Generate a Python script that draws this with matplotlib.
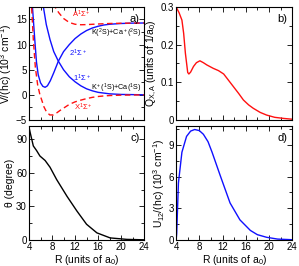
import matplotlib
matplotlib.use("Agg")
import matplotlib.pyplot as plt
from matplotlib.ticker import MultipleLocator

plt.rcParams['font.family'] = ['Liberation Sans', 'DejaVu Sans']
plt.rcParams['mathtext.fontset'] = 'custom'
plt.rcParams['mathtext.rm'] = 'Liberation Sans'
plt.rcParams['mathtext.it'] = 'Liberation Sans:italic'
plt.rcParams['mathtext.default'] = 'regular'

# panel a: potentials (10^3 cm^-1)
r_x = [4.3, 4.45, 4.75, 5.1, 5.5, 5.9, 6.2, 6.6, 7.0, 7.6, 8.2, 8.8, 9.4, 10.2, 11, 12, 13, 14, 15, 16, 17, 18, 20, 22, 24]
v_x = [20, 17.5, 11, 5.5, 2.0, 0, -1, -2.4, -3.3, -4.0, -4.0, -3.6, -3.1, -2.5, -1.9, -1.4, -1.05, -0.75, -0.5, -0.33, -0.22, -0.14, -0.06, -0.03, -0.01]
r_a = [8.3, 8.5, 9.2, 10, 11, 12, 13, 14, 16, 18, 20, 24]
v_a = [18.2, 17.5, 16.3, 15.2, 14.4, 14.05, 13.95, 13.98, 14.1, 14.2, 14.25, 14.3]
r_up = [4.45, 4.6, 5.0, 5.3, 5.6, 6.0, 6.4, 6.8, 7.2, 7.7, 8.3, 9.1, 10, 11, 12, 13, 14, 15, 16, 17, 18, 20, 22, 24]
v_up = [20, 17.5, 11.0, 6.5, 4.0, 2.4, 1.7, 1.5, 1.8, 2.8, 4.4, 6.7, 8.6, 10.0, 11.2, 12.1, 12.8, 13.3, 13.65, 13.9, 14.05, 14.2, 14.27, 14.3]
r_dn = [6.3, 6.5, 7.0, 7.65, 8.3, 9.1, 10, 11, 12, 13, 14, 15, 16, 18, 20, 24]
v_dn = [19, 17.5, 14.0, 11.0, 8.6, 6.7, 5.0, 3.6, 2.6, 1.8, 1.2, 0.8, 0.5, 0.2, 0.08, 0.01]

# panel b: Q_X,A (1/a0)
r_q = [4.0, 4.5, 5.0, 5.3, 5.6, 6.0, 6.2, 6.5, 7.0, 7.5, 8.1, 8.7, 9.3, 10.4, 11.3, 12.2, 13.0, 13.9, 14.8, 15.6, 16.5, 17.3, 18.5, 19.6, 21, 22.6, 24]
q = [0.3, 0.285, 0.265, 0.23, 0.177, 0.126, 0.122, 0.127, 0.142, 0.152, 0.157, 0.152, 0.146, 0.137, 0.131, 0.122, 0.106, 0.088, 0.07, 0.053, 0.04, 0.031, 0.02, 0.013, 0.007, 0.004, 0.002]

# panel c: mixing angle (degree)
r_t = [4.0, 4.2, 4.75, 5.3, 5.9, 6.8, 7.65, 8.8, 10.6, 12.3, 14.0, 15.8, 18.1, 21, 24]
theta = [101, 96, 84, 80, 75, 71, 65, 54, 39, 26, 14, 6.3, 1.8, 0.5, 0.1]

# panel d: coupling (10^3 cm^-1)
r_u = [4.0, 4.1, 4.4, 5.0, 5.8, 6.5, 7.2, 8.0, 8.7, 9.5, 10.2, 11.6, 13.3, 15.0, 16.8, 18.0, 19.6, 21.5, 23.6, 24]
u12 = [0.0, 0.6, 5.4, 8.3, 9.8, 10.3, 10.45, 10.35, 10.0, 9.3, 8.3, 6.1, 3.5, 1.9, 0.9, 0.5, 0.25, 0.08, 0.03, 0.02]

fig = plt.figure(figsize=(2.99, 2.66), dpi=100)
ax_a = fig.add_axes([0.097, 0.549, 0.385, 0.425])
ax_b = fig.add_axes([0.589, 0.549, 0.388, 0.425])
ax_c = fig.add_axes([0.097, 0.098, 0.385, 0.429])
ax_d = fig.add_axes([0.589, 0.098, 0.388, 0.429])

fs = 7.5
for ax in (ax_a, ax_b, ax_c, ax_d):
    ax.set_xlim(4, 24)
    ax.xaxis.set_major_locator(MultipleLocator(4))
    ax.xaxis.set_minor_locator(MultipleLocator(2))
    ax.tick_params(which='both', direction='in', top=True, right=True, labelsize=7, pad=1.5)
    ax.tick_params(which='major', length=3.5, width=0.6)
    ax.tick_params(which='minor', length=2, width=0.6)
    for s in ax.spines.values():
        s.set_linewidth(0.8)

ax_a.plot(r_up, v_up, color='#1010ff', lw=1.0)
ax_a.plot(r_dn, v_dn, color='#1010ff', lw=1.0)
ax_a.plot(r_x, v_x, color='#ff1010', lw=1.0, ls=(0, (4, 2.5)))
ax_a.plot(r_a, v_a, color='#ff1010', lw=1.0, ls=(0, (4, 2.5)))
ax_a.set_ylim(-5, 17.5)
ax_a.yaxis.set_major_locator(MultipleLocator(5))
ax_a.yaxis.set_minor_locator(MultipleLocator(2.5))
ax_a.set_xticklabels([])
ax_a.set_ylabel('V/(hc) (10$^3$ cm$^{-1}$)', fontsize=fs, labelpad=1)
ax_a.text(11.4, 16.0, 'A$^1\\Sigma^+$', color='#ff1010', fontsize=5.5, ha='left', va='center')
ax_a.text(23.6, 12.3, 'K($^2$S)+Ca$^+$($^2$S)', color='black', fontsize=5.2, ha='right', va='center')
ax_a.text(11.0, 8.3, '2$^1\\Sigma^+$', color='#1010ff', fontsize=5.5, ha='left', va='center')
ax_a.text(11.6, 3.3, '1$^1\\Sigma^+$', color='#1010ff', fontsize=5.5, ha='left', va='center')
ax_a.text(23.6, 1.2, 'K$^+$($^1$S)+Ca($^1$S)', color='black', fontsize=5.2, ha='right', va='center')
ax_a.text(11.8, -2.5, 'X$^1\\Sigma^+$', color='#ff1010', fontsize=5.5, ha='left', va='center')
ax_a.text(0.96, 0.94, 'a)', transform=ax_a.transAxes, ha='right', va='top', fontsize=8)

ax_b.plot(r_q, q, color='#ff1010', lw=1.0)
ax_b.set_ylim(0, 0.3)
ax_b.yaxis.set_major_locator(MultipleLocator(0.1))
ax_b.yaxis.set_minor_locator(MultipleLocator(0.05))
ax_b.set_yticks([0, 0.1, 0.2, 0.3])
ax_b.set_yticklabels(['0', '0.1', '0.2', '0.3'])
ax_b.set_xticklabels([])
ax_b.set_ylabel('Q$_{X,A}$ (units of 1/a$_0$)', fontsize=fs, labelpad=1)
ax_b.text(0.96, 0.94, 'b)', transform=ax_b.transAxes, ha='right', va='top', fontsize=8)

ax_c.plot(r_t, theta, color='black', lw=1.0)
ax_c.set_ylim(0, 102)
ax_c.yaxis.set_major_locator(MultipleLocator(30))
ax_c.yaxis.set_minor_locator(MultipleLocator(15))
ax_c.set_ylabel('\u03b8 (degree)', fontsize=fs, labelpad=1)
ax_c.set_xlabel('R (units of a$_0$)', fontsize=fs, labelpad=0.5)
ax_c.text(0.96, 0.94, 'c)', transform=ax_c.transAxes, ha='right', va='top', fontsize=8)

ax_d.plot(r_u, u12, color='#1010ff', lw=1.0)
ax_d.set_ylim(0, 10.8)
ax_d.yaxis.set_major_locator(MultipleLocator(3))
ax_d.yaxis.set_minor_locator(MultipleLocator(1.5))
ax_d.set_ylabel('U$_{12}$/(hc) (10$^3$ cm$^{-1}$)', fontsize=fs, labelpad=1)
ax_d.set_xlabel('R (units of a$_0$)', fontsize=fs, labelpad=0.5)
ax_d.text(0.96, 0.94, 'd)', transform=ax_d.transAxes, ha='right', va='top', fontsize=8)

fig.savefig('out.png', dpi=100)
